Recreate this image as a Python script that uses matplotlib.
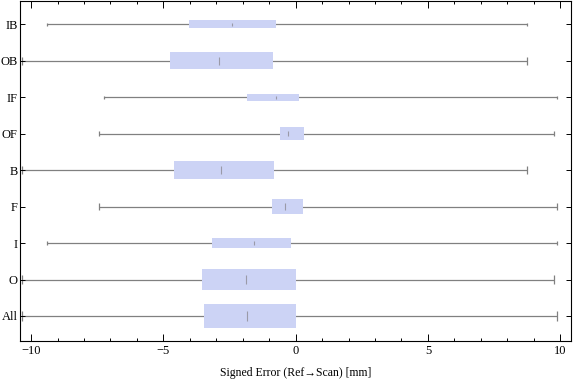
import numpy as np
import matplotlib
matplotlib.use("Agg")
import matplotlib.pyplot as plt
from matplotlib.ticker import MultipleLocator

plt.rcParams['font.family'] = ['Liberation Serif', 'DejaVu Serif']
plt.rcParams['axes.unicode_minus'] = True

# categories from bottom to top
labels = ["All", "O", "I", "F", "B", "OF", "IF", "OB", "IB"]
whisker_lo = [-10.35, -10.35, -9.39, -7.43, -10.35, -7.43, -7.26, -10.35, -9.39]
q1 = [-3.47, -3.54, -3.16, -0.90, -4.60, -0.59, -1.84, -4.74, -4.03]
median = [-1.84, -1.89, -1.57, -0.40, -2.81, -0.28, -0.73, -2.89, -2.40]
q3 = [0.00, 0.01, -0.18, 0.28, -0.82, 0.31, 0.12, -0.86, -0.76]
whisker_hi = [9.87, 9.78, 9.87, 9.87, 8.76, 9.78, 9.87, 8.76, 8.76]

# box thickness (Mathematica scales it per group)
box_h = [0.65, 0.57, 0.27, 0.40, 0.49, 0.35, 0.20, 0.47, 0.22]

box_color = "#ccd3f5"
line_color = "#808080"

fig = plt.figure(figsize=(5.76, 3.81), dpi=100)
ax = fig.add_axes([20.3 / 576, 1 - 341 / 381, (571 - 20.3) / 576, 340.5 / 381])

pos = np.arange(1, len(labels) + 1)
for i, y in enumerate(pos):
    h = box_h[i]
    ax.hlines(y, whisker_lo[i], whisker_hi[i], color=line_color, lw=0.9, zorder=1)
    ax.vlines([whisker_lo[i], whisker_hi[i]], y - 0.22 * h, y + 0.22 * h,
              color=line_color, lw=0.9, zorder=1)
    ax.barh(y, q3[i] - q1[i], left=q1[i], height=h, color=box_color,
            edgecolor="none", zorder=2)
    ax.vlines(median[i], y - 0.22 * h, y + 0.22 * h, color="#9a9aa8",
              lw=0.8, zorder=3)

ax.set_xlim(-10.41, 10.41)
ax.set_ylim(0.314, 9.653)
ax.set_yticks(pos)
ax.set_yticklabels(labels)
ax.set_xticks([-10, -5, 0, 5, 10])
ax.xaxis.set_minor_locator(MultipleLocator(1))

ax.tick_params(which="both", direction="in", top=True, right=True,
               labelsize=9, width=0.7, pad=3)
ax.tick_params(axis="x", which="major", length=5)
ax.tick_params(axis="x", which="minor", length=2.5)
ax.tick_params(axis="y", which="major", length=3.5, pad=2)
for s in ax.spines.values():
    s.set_linewidth(0.8)

ax.set_xlabel("Signed Error (Ref\u2192Scan) [mm]", fontsize=8.5, labelpad=7)

fig.savefig("out.png", dpi=100)
